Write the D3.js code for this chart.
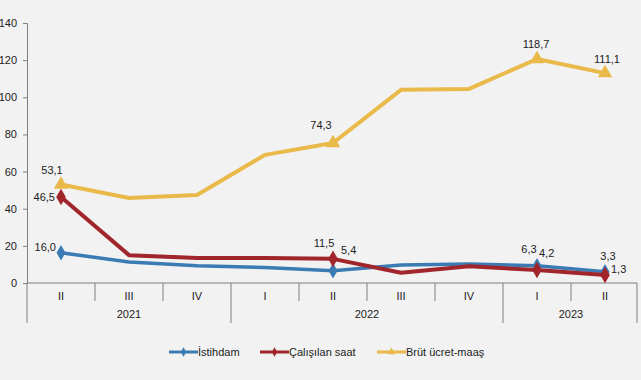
<!DOCTYPE html>
<html>
<head>
<meta charset="utf-8">
<script src="https://cdn.jsdelivr.net/npm/d3@7"></script>
<style>
  body { margin: 0; background: #f2f2f2; }
  svg { display: block; font-family: "Liberation Sans", Arial, sans-serif; }
</style>
</head>
<body>
<div id="chart"></div>
<script>
// quarters and years (multi-level category axis)
var quarters = ["II", "III", "IV", "I", "II", "III", "IV", "I", "II"];
var years = [
  {label: "2021", from: 0, to: 2},
  {label: "2022", from: 3, to: 6},
  {label: "2023", from: 7, to: 8}
];
var yTicks = [0, 20, 40, 60, 80, 100, 120, 140];

// series values
var istihdam = [16.3, 11.3, 9.3, 8.3, 6.6, 9.7, 10.2, 9.3, 6.0];
var calisilanSaat = [46.3, 15.0, 13.5, 13.5, 13.0, 5.5, 9.0, 7.0, 4.3];
var brutUcret = [53.0, 45.8, 47.4, 69.0, 75.4, 104.0, 104.5, 120.6, 113.0];

// labelled points and their texts
var markedIdx = [0, 4, 7, 8];
var istihdamLabels = ["16,0", "5,4", "6,3", "3,3"];
var saatLabels = ["46,5", "11,5", "4,2", "1,3"];
var ucretLabels = ["53,1", "74,3", "118,7", "111,1"];

var names = ["İstihdam", "Çalışılan saat", "Brüt ücret-maaş"];

(function(){
  var width = 641, height = 380;
  var left = 27, right = 639, top = 23, bottom = 283;

  var svg = d3.select('#chart').append('svg')
    .attr('width', width)
    .attr('height', height);

  var x = d3.scaleBand().domain(d3.range(quarters.length)).range([left, right]);
  var y = d3.scaleLinear().domain([0, 140]).range([bottom, top]);

  // y axis
  var yAxis = svg.append('g')
    .attr('transform', 'translate(' + left + ',0)')
    .call(d3.axisLeft(y).tickValues(yTicks).tickSize(4).tickSizeOuter(4).tickPadding(6));
  yAxis.selectAll('path, line').attr('stroke', '#7f7f7f');
  yAxis.selectAll('text').attr('font-size', 11).attr('fill', '#222')
    .attr('font-family', '"Liberation Sans", Arial, sans-serif');

  // category axis
  var ax = svg.append('g').attr('stroke', '#7f7f7f').attr('stroke-width', 1);
  ax.append('line').attr('x1', left).attr('x2', right - 2).attr('y1', bottom).attr('y2', bottom);
  d3.range(quarters.length + 1).forEach(function(i){
    var xx = i < quarters.length ? x(i) : right - 2;
    var isYear = i === 0 || i === quarters.length || years.some(function(yr){ return yr.from === i; });
    ax.append('line').attr('x1', xx).attr('x2', xx)
      .attr('y1', bottom).attr('y2', isYear ? 323 : 301);
  });

  svg.append('g').selectAll('text').data(quarters).enter().append('text')
    .attr('x', function(d, i){ return x(i) + x.bandwidth() / 2; })
    .attr('y', 300)
    .attr('text-anchor', 'middle')
    .attr('font-size', 11).attr('fill', '#222')
    .text(function(d){ return d; });

  svg.append('g').selectAll('text').data(years).enter().append('text')
    .attr('x', function(d){ return (x(d.from) + x(d.to) + x.bandwidth()) / 2; })
    .attr('y', 318)
    .attr('text-anchor', 'middle')
    .attr('font-size', 11).attr('fill', '#222')
    .text(function(d){ return d.label; });

  var cx = function(i){ return x(i) + x.bandwidth() / 2; };
  var line = d3.line().x(function(d, i){ return cx(i); }).y(function(d){ return y(d); });

  var series = [
    {values: istihdam, color: '#3b7bb4', width: 3.5, symbol: d3.symbolDiamond, size: 70, labels: istihdamLabels,
     place: [[-5, -2, 'end'], [8, -17, 'start'], [-8, -13, 'middle'], [3, -12, 'middle']]},
    {values: calisilanSaat, color: '#a0262b', width: 4, symbol: d3.symbolDiamond, size: 80, labels: saatLabels,
     place: [[-6, 4, 'end'], [-9, -12, 'middle'], [2, -13, 'start'], [6, -2, 'start']]},
    {values: brutUcret, color: '#e9b949', width: 4, symbol: d3.symbolTriangle, size: 90, labels: ucretLabels,
     place: [[-9, -11, 'middle'], [-12, -14, 'middle'], [-1, -11, 'middle'], [2, -10, 'middle']]}
  ];

  series.forEach(function(s){
    svg.append('path').datum(s.values)
      .attr('d', line)
      .attr('fill', 'none')
      .attr('stroke', s.color)
      .attr('stroke-width', s.width)
      .attr('stroke-linejoin', 'round');
    svg.append('g').selectAll('path').data(markedIdx).enter().append('path')
      .attr('d', d3.symbol().type(s.symbol).size(s.size))
      .attr('transform', function(i){ return 'translate(' + cx(i) + ',' + y(s.values[i]) + ')'; })
      .attr('fill', s.color);
  });

  series.forEach(function(s){
    svg.append('g').selectAll('text').data(markedIdx).enter().append('text')
      .attr('x', function(i, k){ return cx(i) + s.place[k][0]; })
      .attr('y', function(i, k){ return y(s.values[i]) + s.place[k][1]; })
      .attr('text-anchor', function(i, k){ return s.place[k][2]; })
      .attr('font-size', 11).attr('fill', '#222')
      .text(function(i, k){ return s.labels[k]; });
  });

  // legend
  var legX = [169, 260, 377];
  var leg = svg.append('g');
  series.forEach(function(s, k){
    var g = leg.append('g').attr('transform', 'translate(' + legX[k] + ',352)');
    g.append('line').attr('x1', 0).attr('x2', 29).attr('y1', 0).attr('y2', 0)
      .attr('stroke', s.color).attr('stroke-width', 3);
    g.append('path').attr('d', d3.symbol().type(s.symbol).size(25))
      .attr('transform', 'translate(14.5,0)').attr('fill', s.color);
    g.append('text').attr('x', 29).attr('y', 4).attr('font-size', 11).attr('fill', '#222')
      .text(names[k]);
  });
})();
</script>
</body>
</html>
